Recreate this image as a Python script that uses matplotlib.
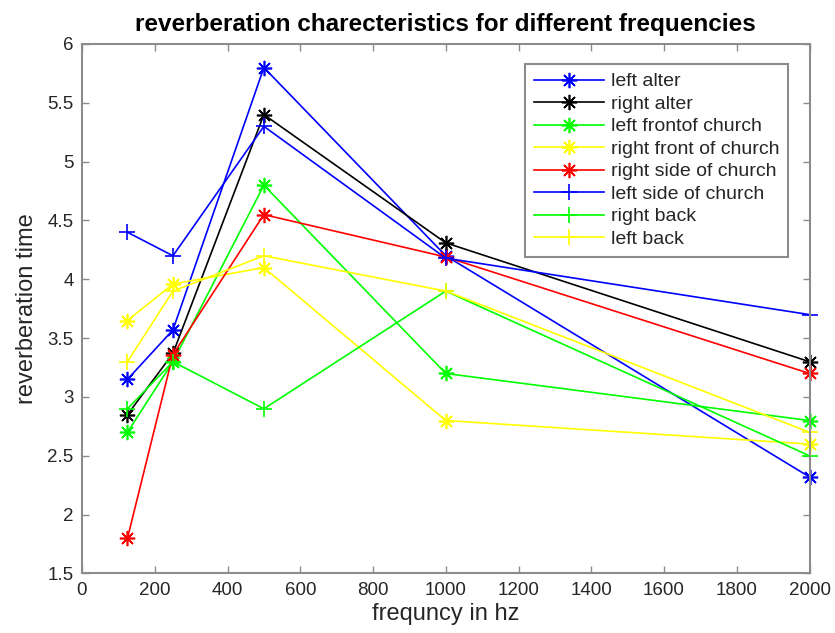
import matplotlib.pyplot as plt

plt.rcParams['font.family'] = ['Liberation Sans', 'DejaVu Sans']

freqs = [125, 250, 500, 1000, 2000]

left_alter = [3.15, 3.57, 5.8, 4.2, 2.32]
right_alter = [2.85, 3.37, 5.4, 4.31, 3.3]
left_front = [2.7, 3.3, 4.8, 3.2, 2.8]
right_front = [3.65, 3.96, 4.1, 2.8, 2.6]
right_side = [1.8, 3.36, 4.55, 4.19, 3.2]
left_side = [4.4, 4.2, 5.3, 4.18, 3.7]
right_back = [2.9, 3.3, 2.9, 3.9, 2.5]
left_back = [3.3, 3.9, 4.2, 3.9, 2.7]

names = ["left alter", "right alter", "left frontof church", "right front of church",
         "right side of church", "left side of church", "right back", "left back"]
values = [left_alter, right_alter, left_front, right_front,
          right_side, left_side, right_back, left_back]
colors = ["#0000ff", "black", "#00ff00", "#ffff00", "#ff0000", "#0000ff", "#00ff00", "#ffff00"]
asterisk = (8, 2, 0)  # matlab style '*'
markers = [asterisk] * 5 + ["+"] * 3

fig = plt.figure(figsize=(8.35, 6.33), dpi=100)
ax = fig.add_axes([0.0982, 0.094, 0.8713, 0.8365])

for name, vals, col, mk in zip(names, values, colors, markers):
    ax.plot(freqs, vals, color=col, marker=mk, markersize=11, linewidth=1.2,
            markeredgewidth=1.2, label=name, clip_on=False)

gray = "#8c8c8c"
ax.set_xlim(0, 2000)
ax.set_ylim(1.5, 6)
ax.set_xticks(range(0, 2001, 200))
ax.set_yticks([1.5, 2, 2.5, 3, 3.5, 4, 4.5, 5, 5.5, 6])
ax.set_yticklabels(["1.5", "2", "2.5", "3", "3.5", "4", "4.5", "5", "5.5", "6"])
ax.tick_params(direction="in", top=True, right=True, labelsize=13.5, length=5,
               color=gray, labelcolor="#262626", width=1.0, pad=6)
for s in ax.spines.values():
    s.set_color(gray)
    s.set_linewidth(1.5)

ax.set_title("reverberation charecteristics for different frequencies",
             fontsize=17.5, fontweight="bold", pad=9)
ax.set_xlabel("frequncy in hz", fontsize=17, color="#262626", labelpad=3)
ax.set_ylabel("reverberation time", fontsize=17, color="#262626", labelpad=7)

leg = ax.legend(loc="upper right", bbox_to_anchor=(0.9705, 0.962), borderaxespad=0,
                fontsize=14, fancybox=False, framealpha=1, edgecolor=gray,
                handlelength=3.6, handletextpad=0.35, labelspacing=0.25,
                borderpad=0.45)
leg.get_frame().set_linewidth(1.5)
for t in leg.get_texts():
    t.set_color("#262626")

fig.savefig("out.png", dpi=100)
